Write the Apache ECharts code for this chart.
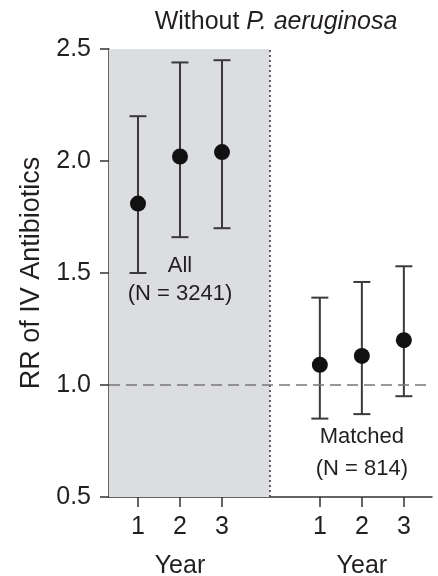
<!DOCTYPE html>
<html>
<head>
<meta charset="utf-8">
<script src="https://cdn.jsdelivr.net/npm/echarts@6/dist/echarts.min.js"></script>
<style>
  html, body { margin: 0; padding: 0; background: #fff; }
  #chart { width: 438px; height: 576px; }
</style>
</head>
<body>
<div id="chart"></div>
<script>
// years shown in each panel
const years = ['1', '2', '3']
// all patients (N = 3241)
const allRR = [1.81, 2.02, 2.04]
const allLow = [1.50, 1.66, 1.70]
const allHigh = [2.20, 2.44, 2.45]
// matched patients (N = 814)
const matchedRR = [1.09, 1.13, 1.20]
const matchedLow = [0.85, 0.87, 0.95]
const matchedHigh = [1.39, 1.46, 1.53]

// x layout: left panel at 1..3, right panel shifted by a gap
const rightShift = 4.33
const dividerX = 4.14
const xMin = 0.31
const xMax = 8.0

const font = 'Liberation Sans, Arial, Helvetica, sans-serif'
const ink = '#231f20'

const leftX = years.map((y, i) => i + 1)
const rightX = years.map((y, i) => i + 1 + rightShift)
const tickPos = leftX.concat(rightX)

const points = leftX.map((x, i) => [x, allRR[i]])
    .concat(rightX.map((x, i) => [x, matchedRR[i]]))
const bars = leftX.map((x, i) => [x, allLow[i], allHigh[i]])
    .concat(rightX.map((x, i) => [x, matchedLow[i], matchedHigh[i]]))

const chart = echarts.init(document.getElementById('chart'))

chart.setOption({
    animation: false,
    textStyle: { fontFamily: font },
    title: {
        text: '{n|Without }{i|P. aeruginosa}',
        left: 271,
        top: 5,
        textAlign: 'center',
        textStyle: {
            fontWeight: 'normal',
            rich: {
                n: { fontSize: 25, color: ink, fontWeight: 'normal', fontFamily: font },
                i: { fontSize: 25, color: ink, fontWeight: 'normal', fontStyle: 'italic', fontFamily: font }
            }
        }
    },
    grid: {
        left: 109,
        right: 6,
        top: 49,
        bottom: 79,
        outerBoundsMode: 'none'
    },
    xAxis: {
        type: 'value',
        min: xMin,
        max: xMax,
        splitLine: { show: false },
        axisLine: { lineStyle: { color: '#333', width: 1.5 } },
        axisTick: {
            customValues: tickPos,
            length: 10,
            lineStyle: { color: '#333', width: 1.5 }
        },
        axisLabel: {
            customValues: tickPos,
            margin: 15,
            formatter: v => {
                const i = tickPos.findIndex(p => Math.abs(p - v) < 1e-6)
                const y = years[i % 3]
                // 'Year' sits under the middle year of each panel
                return i % 3 === 1 ? '{n|' + y + '}\n{t|Year}' : '{n|' + y + '}'
            },
            rich: {
                n: { fontSize: 25, color: ink, lineHeight: 30, fontFamily: font },
                t: { fontSize: 25, color: ink, lineHeight: 48, fontFamily: font }
            }
        }
    },
    yAxis: {
        type: 'value',
        min: 0.5,
        max: 2.5,
        interval: 0.5,
        name: 'RR of IV Antibiotics',
        nameLocation: 'middle',
        nameGap: 64,
        nameTextStyle: { fontSize: 27, color: ink, fontFamily: font },
        splitLine: { show: false },
        axisLine: { show: true, lineStyle: { color: '#333', width: 1.5 } },
        axisTick: { show: true, length: 9, lineStyle: { color: '#333', width: 1.5 } },
        axisLabel: {
            margin: 18,
            fontSize: 25,
            color: ink,
            formatter: v => v.toFixed(1)
        }
    },
    series: [
        {
            // gray panel, divider and reference line
            type: 'line',
            data: [],
            z: 1,
            markArea: {
                silent: true,
                itemStyle: { color: '#dcdde0' },
                data: [[{ xAxis: xMin, yAxis: 0.5 }, { xAxis: dividerX, yAxis: 2.5 }]]
            },
            markLine: {
                silent: true,
                symbol: 'none',
                label: { show: false },
                data: [
                    { xAxis: dividerX, lineStyle: { type: [2, 3], color: '#333', width: 1.5 } },
                    { yAxis: 1.0, lineStyle: { type: [11, 6], color: '#777', width: 1.5 } }
                ]
            }
        },
        {
            type: 'custom',
            z: 3,
            data: bars,
            renderItem: (params, api) => {
                const x = api.value(0)
                const lo = api.coord([x, api.value(1)])
                const hi = api.coord([x, api.value(2)])
                const half = 8.5
                const style = { stroke: '#3a3a3a', lineWidth: 2 }
                return {
                    type: 'group',
                    children: [
                        { type: 'line', shape: { x1: lo[0], y1: lo[1], x2: hi[0], y2: hi[1] }, style },
                        { type: 'line', shape: { x1: hi[0] - half, y1: hi[1], x2: hi[0] + half, y2: hi[1] }, style },
                        { type: 'line', shape: { x1: lo[0] - half, y1: lo[1], x2: lo[0] + half, y2: lo[1] }, style }
                    ]
                }
            }
        },
        {
            type: 'scatter',
            z: 4,
            symbolSize: 16,
            itemStyle: { color: '#111', opacity: 1 },
            data: points,
            markPoint: {
                symbol: 'circle',
                symbolSize: 0,
                silent: true,
                label: {
                    show: true,
                    color: ink,
                    fontSize: 22,
                    fontFamily: font,
                    align: 'center',
                    verticalAlign: 'middle'
                },
                data: [
                    { coord: [2, 1.47], value: 'All\n(N = 3241)', label: { formatter: 'All\n(N = 3241)', lineHeight: 28 } },
                    { coord: [2 + rightShift, 0.695], value: 'Matched\n(N = 814)', label: { formatter: 'Matched\n(N = 814)', lineHeight: 32 } }
                ]
            }
        }
    ]
})
</script>
</body>
</html>
